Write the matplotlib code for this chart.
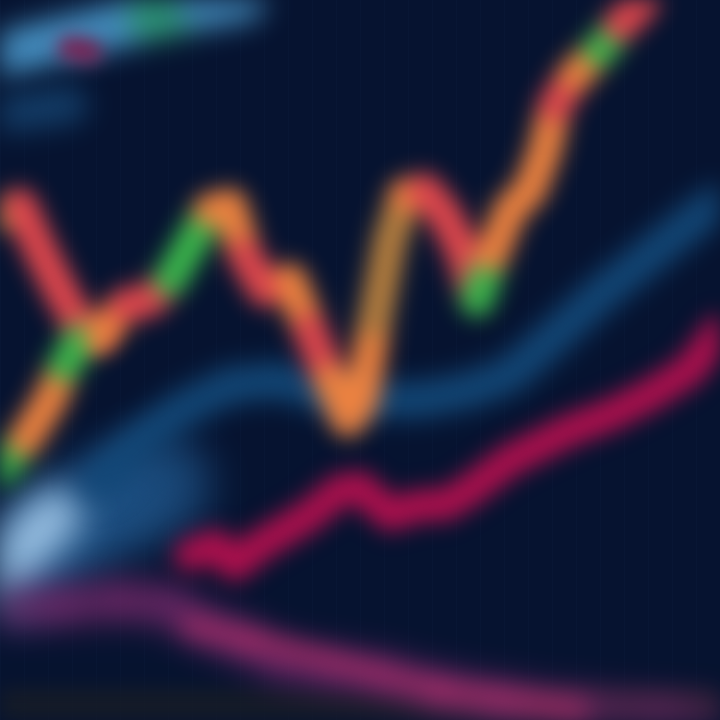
import numpy as np
import matplotlib
matplotlib.use("Agg")
import matplotlib.pyplot as plt
from matplotlib.collections import LineCollection

# time axis (0..720) and price values (0..720)
main_x = [0, 25, 50, 65, 80, 100, 125, 150, 170, 190, 210, 230, 245, 265, 290, 310, 330, 348,
          362, 375, 390, 405, 425, 445, 462, 477, 492, 510, 530, 545, 555, 575, 600, 620, 640, 660]
main_y = [250, 280, 320, 355, 380, 385, 415, 420, 440, 475, 510, 515, 465, 430, 440, 390, 340, 300,
          320, 400, 480, 525, 530, 505, 470, 420, 465, 510, 530, 570, 615, 645, 670, 695, 715, 740]
main_c = ["g", "o", "o", "g", "g", "o", "r", "r", "g", "g", "o", "o", "r", "r", "o", "r", "o", "o",
          "o", "b", "b", "o", "r", "r", "r", "g", "o", "o", "o", "o", "r", "o", "g", "r", "r"]

left_x = [0, 20, 40, 60, 80, 95]
left_y = [505, 515, 470, 430, 395, 385]
left_c = ["y", "r", "r", "r", "r"]

blue_x = [100, 140, 180, 230, 280, 330, 370, 420, 470, 510, 550, 600, 650, 700, 730]
blue_y = [240, 280, 310, 335, 340, 325, 320, 320, 330, 345, 380, 425, 465, 505, 525]

red_x = [190, 215, 235, 260, 285, 310, 340, 360, 390, 420, 445, 470, 510, 540, 570, 610, 650, 690, 720]
red_y = [165, 175, 155, 175, 190, 205, 230, 233, 205, 215, 215, 230, 260, 275, 290, 305, 325, 350, 390]

low_x = [0, 60, 120, 170, 200, 240, 280, 330, 380, 440, 500, 580, 660, 720]
low_y = [110, 115, 120, 115, 95, 80, 60, 52, 45, 30, 20, 10, 5, 0]

top_x = [0, 50, 100, 150, 200, 250]
top_y = [665, 678, 690, 702, 713, 722]
top_c = ["lb", "lb", "lb", "gr", "lb"]

haze_x = [0, 40, 80, 120, 160]
haze_y = [150, 175, 200, 220, 235]

palette = {"g": "#3cb84c", "o": "#f08440", "r": "#e4484e", "y": "#d8a843", "b": "#b8803f",
           "lb": "#4690c2", "pu": "#7a2456", "gr": "#2f9a78"}


def blur(sigma):
    pad = int(3 * sigma)
    k = np.exp(-0.5 * (np.arange(-pad, pad + 1) / sigma) ** 2)
    k /= k.sum()

    def f(im, dpi):
        im = np.pad(im, [(pad, pad), (pad, pad), (0, 0)])
        a = im[..., 3:4]
        pm = np.concatenate([im[..., :3] * a, a], axis=2)
        for axis in (0, 1):
            out = np.zeros_like(pm)
            for i, w in enumerate(k):
                out += w * np.roll(pm, i - pad, axis=axis)
            pm = out
        a = pm[..., 3:4]
        rgb = np.where(a > 1e-4, pm[..., :3] / np.maximum(a, 1e-4), 0)
        return np.concatenate([np.clip(rgb, 0, 1), np.clip(a, 0, 1)], axis=2), -pad, -pad
    return f


def soft_line(ax, x, y, colors, width, sigma, alpha=1.0):
    pts = np.column_stack([x, y])
    segs = [pts[i:i + 2] for i in range(len(pts) - 1)]
    if isinstance(colors, str):
        cols = [colors] * len(segs)
    else:
        cols = [palette[c] for c in colors]
    lc = LineCollection(segs, colors=cols, linewidths=width, alpha=alpha,
                        capstyle="round", joinstyle="round")
    lc.set_agg_filter(blur(sigma))
    ax.add_collection(lc)


fig = plt.figure(figsize=(7.2, 7.2), dpi=100)
ax = fig.add_axes([0, 0, 1, 1])
ax.set_facecolor("#061330")
ax.set_xlim(0, 720)
ax.set_ylim(0, 720)
ax.axis("off")

for gx in range(0, 720, 24):
    ax.axvline(gx, color="#0c1d3d", lw=0.6, alpha=0.4)

soft_line(ax, [0, 720], [8, 8], "#161c28", 34, 10)
soft_line(ax, top_x, top_y, top_c, 32, 14)
soft_line(ax, [70, 90], [672, 668], "#7a2456", 18, 9)
soft_line(ax, [0, 70], [605, 615], "#143f6a", 26, 14)
soft_line(ax, haze_x, haze_y, "#1d5083", 75, 20, 0.8)
soft_line(ax, [0, 25, 55], [145, 175, 205], "#9cc3e6", 38, 18)
soft_line(ax, low_x, low_y, "#74296a", 28, 16, 0.8)
soft_line(ax, [190, 250, 440, 580], [95, 80, 30, 10], "#c0306a", 12, 12, 0.7)
soft_line(ax, blue_x, blue_y, "#134878", 26, 13)
soft_line(ax, red_x, red_y, "#b0104e", 23, 11)
soft_line(ax, left_x, left_y, left_c, 24, 11)
soft_line(ax, main_x, main_y, main_c, 24, 11)

fig.savefig("out.png", dpi=100, facecolor="#061330")
